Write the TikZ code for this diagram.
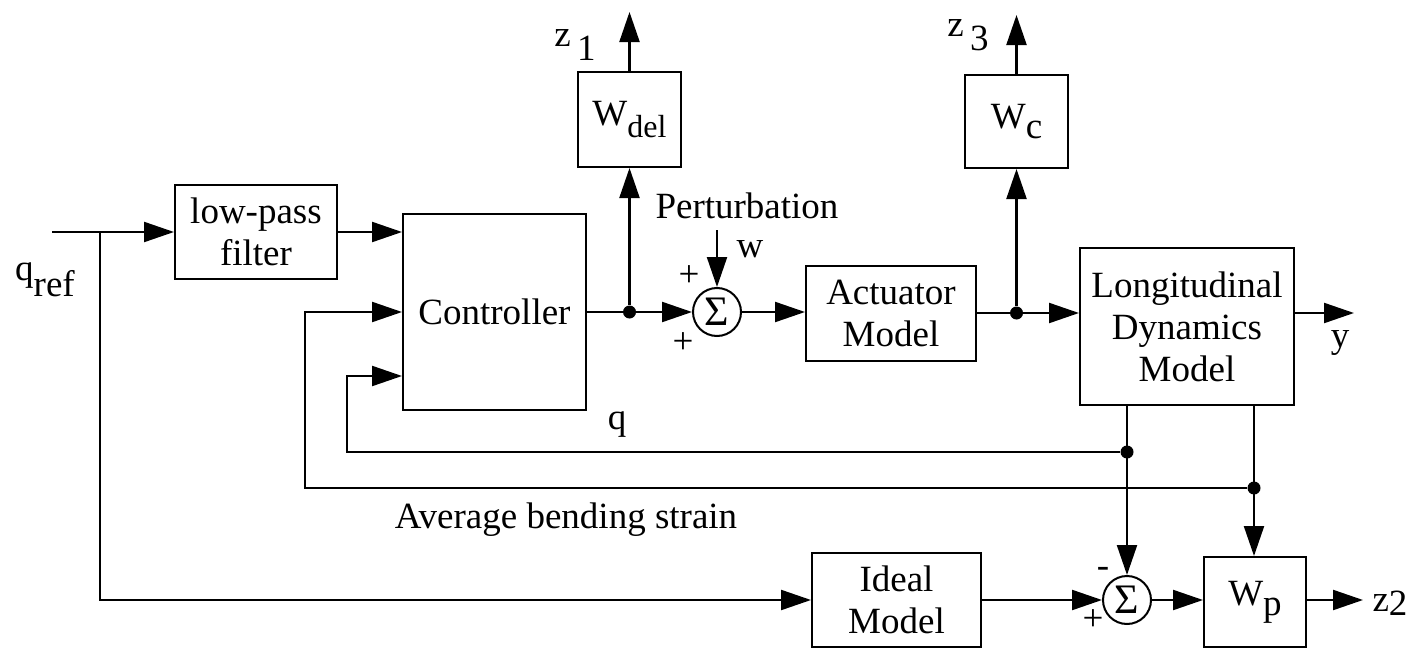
\documentclass[tikz,border=0pt]{standalone}
\usepackage{fontspec}
\setmainfont{Liberation Serif}
\usetikzlibrary{arrows.meta}
\begin{document}
\begin{tikzpicture}[x=0.5pt,y=-0.5pt,
  font=\fontsize{18.5}{21}\selectfont,
  blk/.style={draw, line width=1pt, inner sep=0pt, align=center},
  sumnode/.style={draw, circle, line width=1pt, minimum size=24pt, inner sep=0pt, font=\fontsize{21}{21}\selectfont},
  wire/.style={line width=1.1pt},
  arr/.style={wire, -{Triangle[length=15pt,width=10pt]}},
  dotnode/.style={circle, fill, inner sep=0pt, minimum size=6.5pt},
  lbl/.style={inner sep=0pt}
]
\useasboundingbox (0,0) rectangle (1415,648);

% blocks
\node[blk, minimum width=81pt, minimum height=47pt] (lpf) at (256,232) {low-pass\\filter};
\node[blk, minimum width=91.5pt, minimum height=98pt] (ctrl) at (494.5,312) {Controller};
\node[blk, minimum width=51.5pt, minimum height=47.5pt] (wdel) at (629.5,119.5) {W\raisebox{-6pt}{\fontsize{16}{16}\selectfont del}};
\node[sumnode] (s1) at (717,312) {Σ};
\node[blk, minimum width=85pt, minimum height=47.5pt] (act) at (891,313.5) {Actuator\\Model};
\node[blk, minimum width=51.5pt, minimum height=46.5pt] (wc) at (1016.5,121.5) {W\raisebox{-5pt}{c}};
\node[blk, minimum width=107pt, minimum height=78.5pt] (ldm) at (1187,326.5) {Longitudinal\\Dynamics\\Model};
\node[blk, minimum width=84.5pt, minimum height=47pt] (ideal) at (896.5,600) {Ideal\\Model};
\node[sumnode] (s2) at (1127,600) {Σ};
\node[blk, minimum width=51pt, minimum height=45pt] (wp) at (1255,602) {W\raisebox{-5pt}{p}};

% free ends and bends
\coordinate (qin) at (52,232);
\coordinate (br) at (100,232);
\coordinate (fb1) at (305,312);
\coordinate (fb2) at (347,376);
\coordinate (win) at (717,230);
\coordinate (z1) at (629.5,12);
\coordinate (z3) at (1016.5,15);
\coordinate (yout) at (1354,313);
\coordinate (z2out) at (1363,600);

% junction dots
\node[dotnode] (j1) at (629.5,312) {};
\node[dotnode] (j2) at (1016.5,313) {};
\node[dotnode] (j3) at (1127,452) {};
\node[dotnode] (j4) at (1254,488) {};

% wires
\draw[arr] (qin) -- (lpf.west |- qin);
\draw[arr] (br) |- (ideal.west);
\draw[arr] (lpf.east) -- (ctrl.west |- lpf.east);
\draw[arr] (j4) -| (fb1) -- (ctrl.west |- fb1);
\draw[arr] (j3) -| (fb2) -- (ctrl.west |- fb2);
\draw[arr] (ctrl.east |- s1) -- (s1.west);
\draw[arr] (j1) -- (wdel.south);
\draw[arr] (wdel.north) -- (z1);
\draw[arr] (win) -- (s1.north);
\draw[arr] (s1.east) -- (act.west |- s1.east);
\draw[arr] (act.east |- j2) -- (ldm.west |- j2);
\draw[arr] (j2) -- (wc.south);
\draw[arr] (wc.north) -- (z3);
\draw[arr] (ldm.east |- yout) -- (yout);
\draw[arr] (ldm.south -| j3) -- (s2.north);
\draw[arr] (ldm.south -| j4) -- (wp.north -| j4);
\draw[arr] (ideal.east) -- (s2.west);
\draw[arr] (s2.east) -- (wp.west |- s2.east);
\draw[arr] (wp.east |- s2) -- (z2out);

% labels
\node[lbl] (lqref) at (45,280) {q\raisebox{-8pt}{ref}};
\node[lbl] (lz1) at (575,45) {z\,\raisebox{-7pt}{1}};
\node[lbl] (lz3) at (968,35) {z\,\raisebox{-7pt}{3}};
\node[lbl] (lpert) at (747,206) {Perturbation};
\node[lbl] (lw) at (750,249) {w};
\node[lbl] (lp1) at (689,276) {+};
\node[lbl] (lp2) at (683,343) {+};
\node[lbl] (lq) at (617,425) {q};
\node[lbl] (lavg) at (566,520) {Average bending strain};
\node[lbl] (ly) at (1340,343) {y};
\node[lbl] (lm) at (1103,572) {-};
\node[lbl] (lp3) at (1093,620) {+};
\node[lbl] (lz2) at (1390,603) {z\raisebox{-2pt}{2}};
\end{tikzpicture}
\end{document}
